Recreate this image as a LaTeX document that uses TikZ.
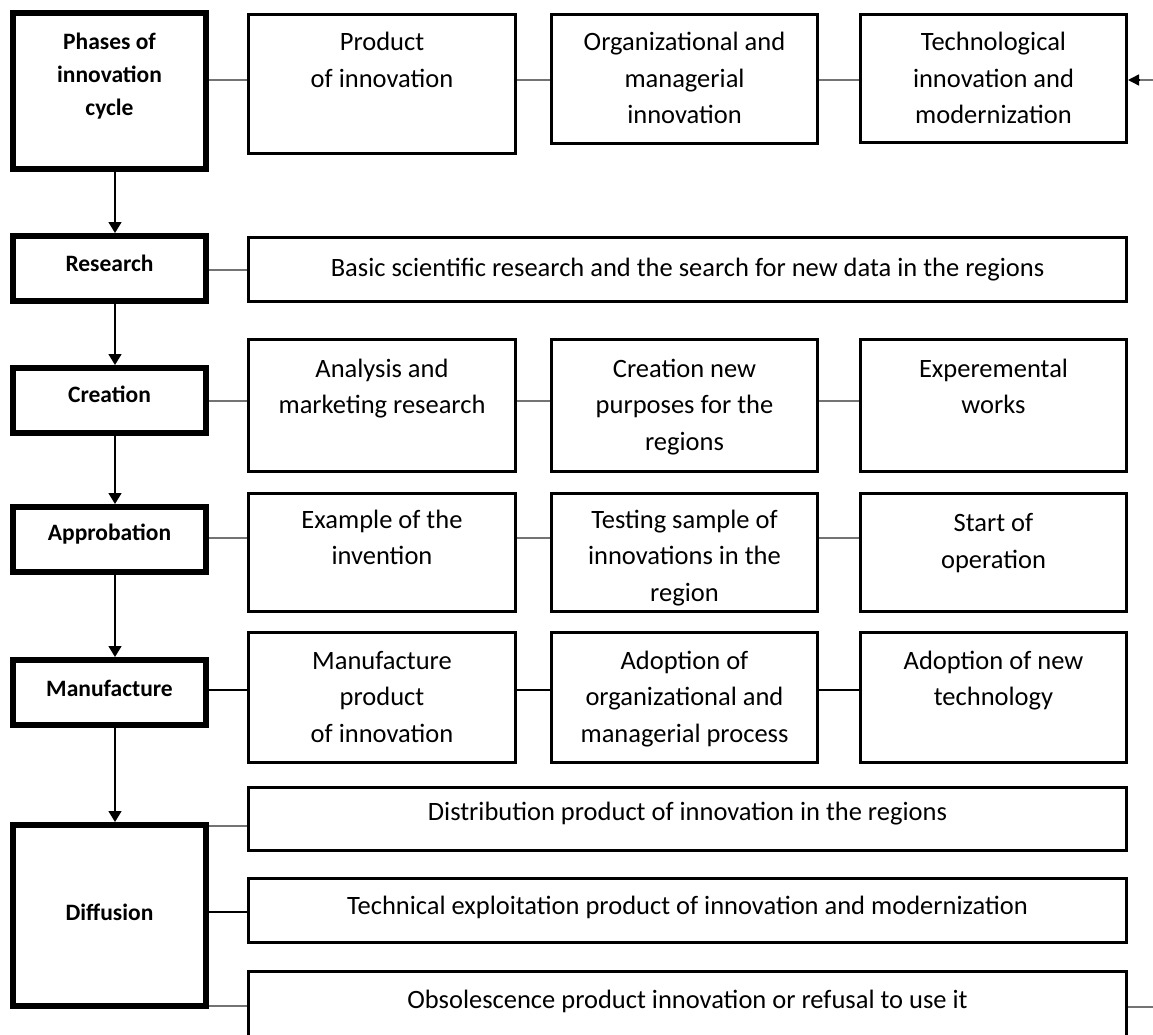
\documentclass[tikz,border=0pt]{standalone}
\usepackage{fontspec}
\setmainfont{Carlito}
\usetikzlibrary{arrows.meta}
\begin{document}
\begin{tikzpicture}[x=1pt,y=-1pt,
  lbox/.style={draw, line width=6pt, rectangle, inner sep=0pt, minimum width=193pt},
  rbox/.style={draw, line width=3pt, rectangle, inner sep=0pt},
  ltxt/.style={font=\fontsize{23.5}{33}\selectfont\bfseries, align=center, inner sep=0pt, anchor=base},
  rtxt/.style={font=\fontsize{26.5}{36.5}\selectfont, align=center, inner sep=0pt, anchor=base},
  conn/.style={line width=2pt, draw=black!55},
  connk/.style={line width=1.8pt, draw=black},
  arr/.style={line width=1.5pt, -{Triangle[width=13pt,length=11pt]}},
]
\fill[white] (0,0) rectangle (1153,1035);
\useasboundingbox (0,0) rectangle (1153,1035);

% left column
\node[lbox, minimum height=156pt] (L1) at (109.5,91) {};
\node[lbox, minimum height=65pt] (L2) at (109.5,268.5) {};
\node[lbox, minimum height=65pt] (L3) at (109.5,400.5) {};
\node[lbox, minimum height=65pt] (L4) at (109.5,539.5) {};
\node[lbox, minimum height=65pt] (L5) at (109.5,692.5) {};
\node[lbox, minimum height=181pt] (L6) at (109.5,915.5) {};
\node[ltxt] (T1) at (109.5,116) {Phases of\\innovation\\cycle};
\node[ltxt] (T2) at (109.5,271) {Research};
\node[ltxt] (T3) at (109.5,402) {Creation};
\node[ltxt] (T4) at (109.5,540) {Approbation};
\node[ltxt] (T5) at (109.5,696) {Manufacture};
\node[ltxt] (T6) at (109.5,920) {Diffusion};

% row 1
\node[rbox, minimum width=267pt, minimum height=139pt] (R11) at (382,84) {};
\node[rbox, minimum width=266pt, minimum height=129pt] (R12) at (684.5,79) {};
\node[rbox, minimum width=266pt, minimum height=128pt] (R13) at (993.5,78.5) {};
\node[rtxt] (t11) at (382,87.5) {Product\\of innovation};
\node[rtxt] (t12) at (684.5,124) {Organizational and\\managerial\\innovation};
\node[rtxt] (t13) at (993.5,124) {Technological\\innovation and\\modernization};
% row 2
\node[rbox, minimum width=878pt, minimum height=64pt] (R2) at (687.5,269.5) {};
\node[rtxt] (t2) at (687.5,276) {Basic scientific research and the search for new data in the regions};
% row 3
\node[rbox, minimum width=267pt, minimum height=132pt] (R31) at (382,405.5) {};
\node[rbox, minimum width=266pt, minimum height=132pt] (R32) at (684.5,405.5) {};
\node[rbox, minimum width=266pt, minimum height=132pt] (R33) at (993.5,405.5) {};
\node[rtxt] (t31) at (382,413.5) {Analysis and\\marketing research};
\node[rtxt] (t32) at (684.5,450) {Creation new\\purposes for the\\regions};
\node[rtxt] (t33) at (993.5,413.5) {Experemental\\works};
% row 4
\node[rbox, minimum width=267pt, minimum height=118pt] (R41) at (382,552.5) {};
\node[rbox, minimum width=266pt, minimum height=118pt] (R42) at (684.5,552.5) {};
\node[rbox, minimum width=266pt, minimum height=118pt] (R43) at (993.5,552.5) {};
\node[rtxt] (t41) at (382,564.5) {Example of the\\invention};
\node[rtxt] (t42) at (684.5,601) {Testing sample of\\innovations in the\\region};
\node[rtxt] (t43) at (993.5,568) {Start of\\operation};
% row 5
\node[rbox, minimum width=267pt, minimum height=130pt] (R51) at (382,697.5) {};
\node[rbox, minimum width=266pt, minimum height=130pt] (R52) at (684.5,697.5) {};
\node[rbox, minimum width=266pt, minimum height=130pt] (R53) at (993.5,697.5) {};
\node[rtxt] (t51) at (382,742) {Manufacture\\product\\of innovation};
\node[rtxt] (t52) at (684.5,742) {Adoption of\\organizational and\\managerial process};
\node[rtxt] (t53) at (993.5,705.5) {Adoption of new\\technology};
% row 6
\node[rbox, minimum width=878pt, minimum height=63pt] (R61) at (687.5,819) {};
\node[rbox, minimum width=878pt, minimum height=64pt] (R62) at (687.5,910.5) {};
\node[rbox, minimum width=878pt, minimum height=67pt] (R63) at (687.5,1005) {};
\node[rtxt] (t61) at (687.5,820) {Distribution product of innovation in the regions};
\node[rtxt] (t62) at (687.5,914) {Technical exploitation product of innovation and modernization};
\node[rtxt] (t63) at (687.5,1008) {Obsolescence product innovation or refusal to use it};

% vertical arrows
\draw[arr] ([xshift=5.5pt]L1.south) -- ([xshift=5.5pt]L2.north);
\draw[arr] ([xshift=5.5pt]L2.south) -- ([xshift=5.5pt]L3.north);
\draw[arr] ([xshift=5.5pt]L3.south) -- ([xshift=5.5pt]L4.north);
\draw[arr] ([xshift=5.5pt]L4.south) -- ([xshift=5.5pt]L5.north);
\draw[arr] ([xshift=5.5pt]L5.south) -- ([xshift=5.5pt]L6.north);

% horizontal connectors
\draw[conn] (L1.east |- 0,80) -- (R11.west |- 0,80);
\draw[conn] (R11.east |- 0,80) -- (R12.west |- 0,80);
\draw[conn] (R12.east |- 0,80) -- (R13.west |- 0,80);
\coordinate (in1) at (1153,80);
\draw[conn] (in1) -- ([xshift=10pt]R13.east |- 0,80);
\draw[line width=1.5pt, -{Triangle[width=11pt,length=11pt]}] ([xshift=12pt]R13.east |- 0,80) -- (R13.east |- 0,80);

\draw[conn] (L2.east |- 0,270) -- (R2.west |- 0,270);

\draw[conn] (L3.east |- 0,401) -- (R31.west |- 0,401);
\draw[conn] (R31.east |- 0,401) -- (R32.west |- 0,401);
\draw[conn] (R32.east |- 0,401) -- (R33.west |- 0,401);

\draw[conn] (L4.east |- 0,538) -- (R41.west |- 0,538);
\draw[conn] (R41.east |- 0,538) -- (R42.west |- 0,538);
\draw[conn] (R42.east |- 0,538) -- (R43.west |- 0,538);

\draw[connk] (L5.east |- 0,690) -- (R51.west |- 0,690);
\draw[connk] (R51.east |- 0,690) -- (R52.west |- 0,690);
\draw[connk] (R52.east |- 0,690) -- (R53.west |- 0,690);

\draw[conn] (L6.east |- 0,826) -- (R61.west |- 0,826);
\draw[connk] (L6.east |- 0,912) -- (R62.west |- 0,912);
\draw[conn] (L6.east |- 0,1006) -- (R63.west |- 0,1006);
\coordinate (out1) at (1153,1007);
\draw[conn] (R63.east |- out1) -- (out1);
\end{tikzpicture}
\end{document}
